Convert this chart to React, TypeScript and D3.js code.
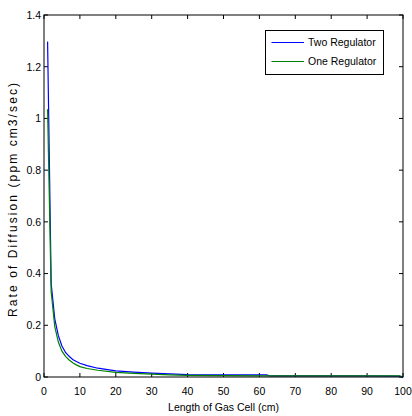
import React from "react";
import * as d3 from "d3";

const xTicks = [0, 10, 20, 30, 40, 50, 60, 70, 80, 90, 100];
const yTicks = [0, 0.2, 0.4, 0.6, 0.8, 1, 1.2, 1.4];

const lengthCm = [1, 2, 3, 4, 5, 6, 7, 8, 9, 10, 12, 15, 20, 25, 30, 35, 40, 50, 62, 63, 70, 80, 90, 99, 100];
const twoRegulator = [1.297, 0.36, 0.225, 0.16, 0.12, 0.095, 0.08, 0.068, 0.06, 0.053, 0.044, 0.034, 0.024, 0.019, 0.015, 0.012, 0.009, 0.008, 0.008, 0.004, 0.004, 0.004, 0.004, 0.003, -0.002];
const oneRegulator = [1.036, 0.33, 0.195, 0.135, 0.1, 0.08, 0.066, 0.055, 0.047, 0.04, 0.033, 0.026, 0.018, 0.014, 0.011, 0.008, 0.006, 0.005, 0.004, 0.004, 0.004, 0.004, 0.004, 0.004, 0.001];

const seriesNames = ["Two Regulator", "One Regulator"];
const seriesColors = ["#0000ff", "#008000"];

export default function App() {
  const W = 412, H = 416;
  const left = 44, right = 403, top = 15, bottom = 377;
  const x = d3.scaleLinear().domain([0, 100]).range([left, right]);
  const y = d3.scaleLinear().domain([0, 1.4]).range([bottom, top]);
  const font = "'Liberation Sans', Arial, sans-serif";
  const tl = 4;

  const mkLine = (vals: number[]) =>
    d3.line<number>().x((_, i) => x(lengthCm[i])).y((d) => y(d))(vals) || "";

  const series = [twoRegulator, oneRegulator];

  return (
    <svg width={W} height={H} style={{ position: "absolute", left: 0, top: 0, background: "#fff" }}>
      <rect x={0} y={0} width={W} height={H} fill="#fff" />
      {xTicks.map((t) => (
        <g key={"x" + t}>
          <line x1={x(t)} x2={x(t)} y1={bottom} y2={bottom - tl} stroke="#000" />
          <line x1={x(t)} x2={x(t)} y1={top} y2={top + tl} stroke="#000" />
          <text x={x(t)} y={395} textAnchor="middle" fontFamily={font} fontSize={10.5} fill="#000">
            {t}
          </text>
        </g>
      ))}
      {yTicks.map((t) => (
        <g key={"y" + t}>
          <line x1={left} x2={left + tl} y1={y(t)} y2={y(t)} stroke="#000" />
          <line x1={right} x2={right - tl} y1={y(t)} y2={y(t)} stroke="#000" />
          <text x={41} y={y(t) + 3.8} textAnchor="end" fontFamily={font} fontSize={10.5} fill="#000">
            {String(t)}
          </text>
        </g>
      ))}
      {series.map((s, i) => (
        <path key={i} d={mkLine(s)} fill="none" stroke={seriesColors[i]} strokeWidth={1.2} />
      ))}
      <rect x={left} y={top} width={right - left} height={bottom - top} fill="none" stroke="#000" strokeWidth={1} />
      <rect x={265.5} y={30.5} width={118} height={44} fill="#fff" stroke="#000" strokeWidth={1} />
      {seriesNames.map((n, i) => (
        <g key={n}>
          <line x1={271.5} x2={304} y1={42.5 + i * 19} y2={42.5 + i * 19} stroke={seriesColors[i]} strokeWidth={1.2} />
          <text x={308} y={46.3 + i * 19} fontFamily={font} fontSize={10.5} fill="#000">
            {n}
          </text>
        </g>
      ))}
      <text x={(left + right) / 2} y={411} textAnchor="middle" fontFamily={font} fontSize={10.5} fill="#000">
        Length of Gas Cell (cm)
      </text>
      <text
        transform={`translate(16.5,200) rotate(-90)`}
        textAnchor="middle"
        fontFamily={font}
        fontSize={12}
        textLength={234}
        lengthAdjust="spacing"
        fill="#000"
      >
        Rate of Diffusion (ppm cm3/sec)
      </text>
    </svg>
  );
}
